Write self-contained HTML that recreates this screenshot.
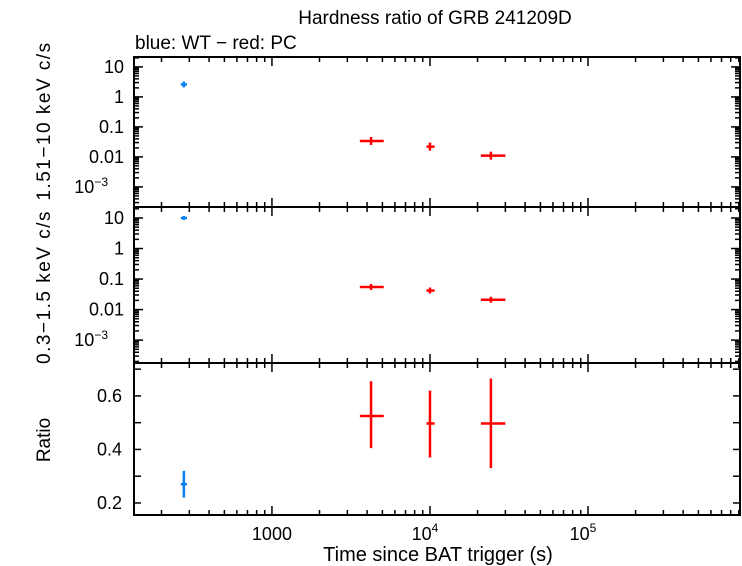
<!DOCTYPE html>
<html><head><meta charset="utf-8"><style>
body{margin:0;background:#fff}
svg{display:block;font-family:"Liberation Sans",sans-serif}
</style></head><body>
<svg id="c" width="742" height="566"></svg>
<script>
const wtTime=[277], wtTlo=[265], wtThi=[290];
const pcTime=[4240,10000,24300], pcTlo=[3600,9500,21000], pcThi=[5100,10700,30000];
const wtHard=[2.6], pcHard=[0.034,0.022,0.011];
const wtSoft=[10], pcSoft=[0.055,0.042,0.021];
const wtRatio=[0.27], wtRlo=[0.22], wtRhi=[0.32];
const pcRatio=[0.525,0.497,0.497], pcRlo=[0.405,0.37,0.33], pcRhi=[0.655,0.62,0.665];
const xTickVals=[1000,10000,100000];
const logTickLabels=["10","1","0.1","0.01","10^-3"];
const ratioTicks=[0.2,0.4,0.6];

const NS="http://www.w3.org/2000/svg", svg=document.getElementById('c');
function el(t,a,p){const e=document.createElementNS(NS,t);for(const k in a)e.setAttribute(k,a[k]);(p||svg).appendChild(e);return e;}
const X0=134,X1=740,xl0=2.127,xl1=5.962;
const xs=v=>X0+(Math.log10(v)-xl0)/(xl1-xl0)*(X1-X0);
const panels=[{t:57,b:207,l0:-3.67,l1:1.33},{t:207,b:363,l0:-3.75,l1:1.36},{t:363,b:515,l0:0.155,l1:0.723}];
const ysLog=p=>v=>p.b-(Math.log10(v)-p.l0)/(p.l1-p.l0)*(p.b-p.t);
const ysLin=p=>v=>p.b-(v-p.l0)/(p.l1-p.l0)*(p.b-p.t);
function line(x1,y1,x2,y2,c,w,name){const e=el('line',{x1,y1,x2,y2,stroke:c,'stroke-width':w});return e;}
function text(x,y,s,anchor,size,name){const e=el('text',{x,y,'text-anchor':anchor,'font-size':size});e.textContent=s;return e;}

panels.forEach((p,i)=>{
  const r=el('rect',{x:X0,y:p.t,width:X1-X0,height:p.b-p.t,fill:'none',stroke:'#000','stroke-width':2});
  
  
  for(let d=2;d<=5;d++)for(let m=1;m<10;m++){const v=m*Math.pow(10,d);const x=xs(v);if(x<X0||x>X1)continue;const L=m==1?9:5;
    line(x,p.b,x,p.b-L,'#000',1.5,'x-tick');line(x,p.t,x,p.t+L,'#000',1.5,'x-tick');}
  if(i<2){const ys=ysLog(p);
    for(let d=-4;d<=1;d++)for(let m=1;m<10;m++){const v=m*Math.pow(10,d);const y=ys(v);if(y<p.t||y>p.b)continue;const L=m==1?9:5;
      line(X0,y,X0+L,y,'#000',1.5,'y-tick');line(X1,y,X1-L,y,'#000',1.5,'y-tick');}
    logTickLabels.forEach((s,k)=>{const v=Math.pow(10,1-k);const y=ys(v)+6;
      if(s.startsWith('10^')){const t=text(X0-26,y,'10','end',18,'y-tick-label');const sp=el('tspan',{dy:-7,'font-size':12},t);sp.textContent='−3';}
      else text(X0-10,y,s,'end',18,'y-tick-label');});
  } else {const ys=ysLin(p);
    for(let v=0.2;v<=0.71;v+=0.1){const y=ys(v);line(X0,y,X0+7,y,'#000',1.5,'y-tick');line(X1,y,X1-7,y,'#000',1.5,'y-tick');}
    ratioTicks.forEach(v=>text(X0-12,ys(v)+6,v.toFixed(1),'end',18,'y-tick-label'));}
});
function pts(p,ys,T,Tlo,Thi,V,Vlo,Vhi,c,name,cap){
  T.forEach((t,k)=>{const x=xs(t),y=ys(V[k]);
    line(xs(Tlo[k]),y,xs(Thi[k]),y,c,2.5,name);
    if(Vlo)line(x,ys(Vlo[k]),x,ys(Vhi[k]),c,2.5,name);
    else line(x,y-cap,x,y+cap,c,2.5,name);});
}
pts(0,ysLog(panels[0]),wtTime,wtTlo,wtThi,wtHard,null,null,'#0a7ff0','wt-hard-point',3);
pts(0,ysLog(panels[0]),pcTime,pcTlo,pcThi,pcHard,null,null,'#f00','pc-hard-point',4);
pts(1,ysLog(panels[1]),wtTime,wtTlo,wtThi,wtSoft,null,null,'#0a7ff0','wt-soft-point',2);
pts(1,ysLog(panels[1]),pcTime,pcTlo,pcThi,pcSoft,null,null,'#f00','pc-soft-point',3);
pts(2,ysLin(panels[2]),wtTime,wtTlo,wtThi,wtRatio,wtRlo,wtRhi,'#0a7ff0','wt-ratio-point');
pts(2,ysLin(panels[2]),pcTime,pcTlo,pcThi,pcRatio,pcRlo,pcRhi,'#f00','pc-ratio-point');
xTickVals.forEach(v=>{const x=xs(v);
  if(v==1000)text(x,540,'1000','middle',18,'x-tick-label');
  else{const t=text(x-5,540,'10','middle',18,'x-tick-label');const sp=el('tspan',{dy:-8,'font-size':12},t);sp.textContent=String(Math.log10(v));}});
text(438,561,'Time since BAT trigger (s)','middle',20,'x-axis-title');
text(435,24,'Hardness ratio of GRB 241209D','middle',19,'chart-title');
text(135,49,'blue: WT − red: PC','start',19,'legend-text');
const a=text(0,0,'1.51−10 keV c/s','middle',19,'top-y-axis-title');a.setAttribute('transform','translate(50,121) rotate(-90)');a.setAttribute('letter-spacing','1.5');
const b=text(0,0,'0.3−1.5 keV c/s','middle',19,'middle-y-axis-title');b.setAttribute('transform','translate(50,287) rotate(-90)');b.setAttribute('letter-spacing','1.5');
const c=text(0,0,'Ratio','middle',19,'bottom-y-axis-title');c.setAttribute('transform','translate(50,440) rotate(-90)');
</script>
</body></html>
